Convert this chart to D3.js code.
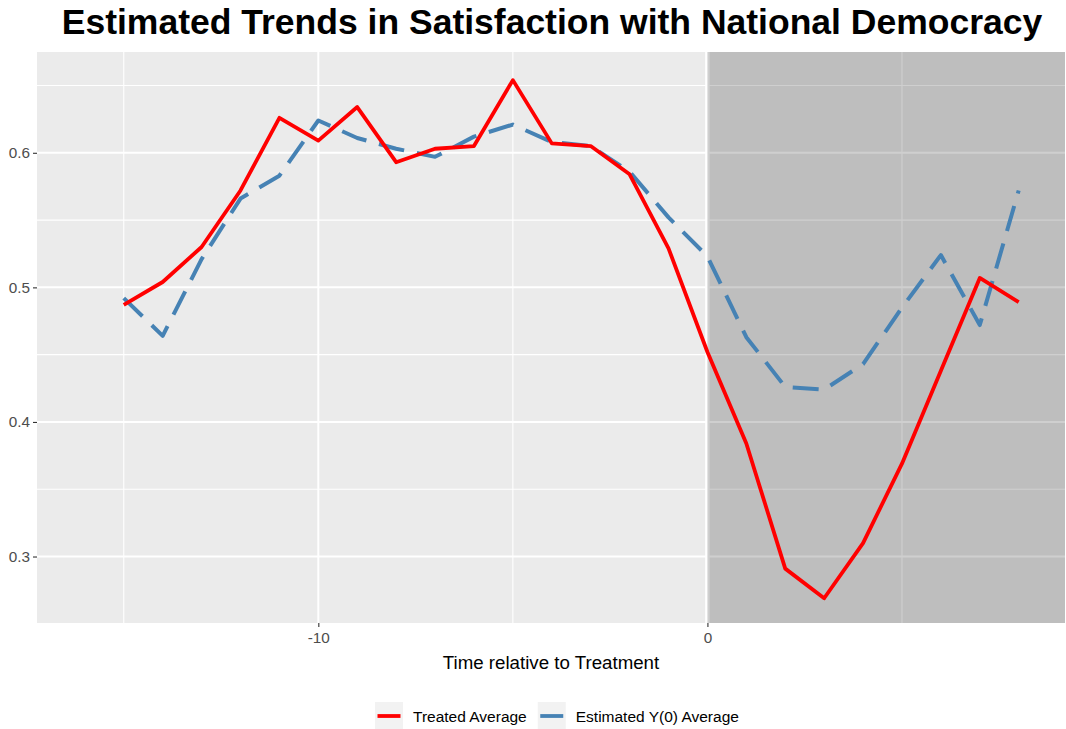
<!DOCTYPE html>
<html>
<head>
<meta charset="utf-8">
<script src="https://cdn.jsdelivr.net/npm/d3@7"></script>
<style>
  html, body { margin: 0; padding: 0; background: #ffffff; }
  svg { display: block; font-family: "Liberation Sans", Arial, sans-serif; }
</style>
</head>
<body>
<svg id="chart" width="1066" height="729"></svg>
<script>
// Time relative to treatment (periods)
const times = [-15, -14, -13, -12, -11, -10, -9, -8, -7, -6, -5, -4, -3, -2, -1, 0, 1, 2, 3, 4, 5, 6, 7, 8];

// Treated units' average satisfaction
const treatedAvg = [0.487, 0.504, 0.530, 0.572, 0.626, 0.609, 0.634, 0.593, 0.603, 0.605, 0.654, 0.607,
                    0.605, 0.584, 0.529, 0.452, 0.384, 0.291, 0.269, 0.310, 0.369, 0.438, 0.507, 0.489];

// Estimated counterfactual Y(0) average
const y0Avg = [0.492, 0.464, 0.521, 0.566, 0.583, 0.624, 0.611, 0.603, 0.597, 0.612, 0.621, 0.608,
               0.605, 0.586, 0.552, 0.523, 0.463, 0.426, 0.424, 0.443, 0.485, 0.524, 0.472, 0.572];

const seriesNames = ["Treated Average", "Estimated Y(0) Average"];
const xTickValues = [-10, 0];
const xMinorValues = [-15, -5, 5];
const yTickValues = [0.3, 0.4, 0.5, 0.6];
const yMinorValues = [0.35, 0.45, 0.55, 0.65];

const titleText = "Estimated Trends in Satisfaction with National Democracy";
const xTitle = "Time relative to Treatment";

const colors = { "Treated Average": "#ff0000", "Estimated Y(0) Average": "#4682b4" };

const svg = d3.select("#chart");
const panel = { left: 37, right: 1065, top: 52, bottom: 623 };

const x = d3.scaleLinear().domain([-17.23, 9.19]).range([panel.left, panel.right]);
const y = d3.scaleLinear().domain([0.2506, 0.6749]).range([panel.bottom, panel.top]);

// Panel background
svg.append("rect")
  .attr("x", panel.left).attr("y", panel.top)
  .attr("width", panel.right - panel.left).attr("height", panel.bottom - panel.top)
  .attr("fill", "#ebebeb");

// Grid lines
const grid = svg.append("g");
grid.selectAll(".ymin").data(yMinorValues).join("line")
  .attr("x1", panel.left).attr("x2", panel.right)
  .attr("y1", d => y(d)).attr("y2", d => y(d))
  .attr("stroke", "#ffffff").attr("stroke-width", 1.1);
grid.selectAll(".xmin").data(xMinorValues).join("line")
  .attr("y1", panel.top).attr("y2", panel.bottom)
  .attr("x1", d => x(d)).attr("x2", d => x(d))
  .attr("stroke", "#ffffff").attr("stroke-width", 1.1);
grid.selectAll(".ymaj").data(yTickValues).join("line")
  .attr("x1", panel.left).attr("x2", panel.right)
  .attr("y1", d => y(d)).attr("y2", d => y(d))
  .attr("stroke", "#ffffff").attr("stroke-width", 2);
grid.selectAll(".xmaj").data(xTickValues).join("line")
  .attr("y1", panel.top).attr("y2", panel.bottom)
  .attr("x1", d => x(d)).attr("x2", d => x(d))
  .attr("stroke", "#ffffff").attr("stroke-width", 2);

// Treatment onset marker
svg.append("line")
  .attr("x1", x(0)).attr("x2", x(0))
  .attr("y1", panel.top).attr("y2", panel.bottom)
  .attr("stroke", "#ffffff").attr("stroke-width", 4.5);

// Post-treatment shading
svg.append("rect")
  .attr("x", x(0)).attr("y", panel.top)
  .attr("width", panel.right - x(0)).attr("height", panel.bottom - panel.top)
  .attr("fill", "#000000").attr("fill-opacity", 0.19);

// Series lines
const line = d3.line().x(d => x(d[0])).y(d => y(d[1]));
const y0Data = times.map((t, i) => [t, y0Avg[i]]);
const treatedData = times.map((t, i) => [t, treatedAvg[i]]);

svg.append("path").datum(y0Data)
  .attr("d", line).attr("fill", "none")
  .attr("stroke", colors["Estimated Y(0) Average"]).attr("stroke-width", 4)
  .attr("stroke-dasharray", "26,13").attr("stroke-linejoin", "round");

svg.append("path").datum(treatedData)
  .attr("d", line).attr("fill", "none")
  .attr("stroke", colors["Treated Average"]).attr("stroke-width", 3.8)
  .attr("stroke-linejoin", "round");

// Axes
const yAxis = d3.axisLeft(y).tickValues(yTickValues).tickSize(4).tickPadding(3)
  .tickFormat(d3.format(".1f"));
const yg = svg.append("g").attr("transform", `translate(${panel.left},0)`).call(yAxis);
yg.select(".domain").remove();
yg.selectAll(".tick line").attr("stroke", "#333333").attr("stroke-width", 1.1);
yg.selectAll(".tick text").attr("fill", "#4d4d4d").style("font-size", "15.3px")
  .style("font-family", "'Liberation Sans', Arial, sans-serif");

const xAxis = d3.axisBottom(x).tickValues(xTickValues).tickSize(4).tickPadding(5)
  .tickFormat(d => String(d));
const xg = svg.append("g").attr("transform", `translate(0,${panel.bottom})`).call(xAxis);
xg.select(".domain").remove();
xg.selectAll(".tick line").attr("stroke", "#333333").attr("stroke-width", 1.1);
xg.selectAll(".tick text").attr("fill", "#4d4d4d").style("font-size", "15.3px")
  .style("font-family", "'Liberation Sans', Arial, sans-serif");

// Axis title
svg.append("text")
  .attr("x", (panel.left + panel.right) / 2).attr("y", 669)
  .attr("text-anchor", "middle")
  .style("font-size", "18.7px").attr("fill", "#000000")
  .text(xTitle);

// Chart title
svg.append("text")
  .attr("x", (panel.left + panel.right) / 2 + 1).attr("y", 34)
  .attr("text-anchor", "middle")
  .style("font-size", "35.5px").style("font-weight", "bold").attr("fill", "#000000")
  .text(titleText);

// Legend
const legend = svg.append("g");
const keySize = 28;
const legendY = 716;
let cursor = 375;
seriesNames.forEach((name, i) => {
  const g = legend.append("g");
  g.append("rect")
    .attr("x", cursor).attr("y", legendY - keySize / 2)
    .attr("width", keySize).attr("height", keySize)
    .attr("fill", "#f2f2f2");
  g.append("line")
    .attr("x1", cursor + 2.5).attr("x2", cursor + keySize - 2.5)
    .attr("y1", legendY).attr("y2", legendY)
    .attr("stroke", colors[name]).attr("stroke-width", 3.8);
  const t = g.append("text")
    .attr("x", cursor + keySize + 10).attr("y", legendY + 5.5)
    .style("font-size", "15.5px").attr("fill", "#000000")
    .text(name);
  const w = t.node().getComputedTextLength();
  cursor = cursor + keySize + 10 + w + 11;
});
</script>
</body>
</html>
